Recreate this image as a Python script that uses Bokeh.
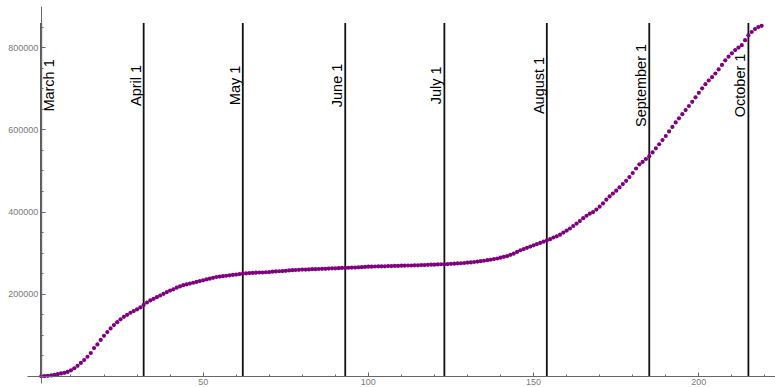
import math

from bokeh.core.properties import value
from bokeh.embed import file_html
from bokeh.models import ColumnDataSource, FixedTicker, PrintfTickFormatter, Range1d
from bokeh.plotting import figure
from bokeh.resources import INLINE

# Cumulative confirmed cases, one value per day (thousands), day 1 = March 1
cases_k = [
    0.5, 1, 1.5, 2.5, 4, 5.5, 7.5, 9, 11, 15,
    20, 26, 33, 40, 48, 57, 69, 78, 89, 99,
    108, 117, 125, 132, 139, 145, 150, 155, 159, 163,
    168, 174, 180, 185, 189, 193, 197, 201, 205, 209,
    212, 216, 219, 222, 224, 226, 228, 230, 232, 234,
    236, 238, 240, 242, 243, 244, 245, 246, 247, 248,
    249, 250, 251, 251.5, 252, 252.5, 253, 253, 253.5, 254,
    255, 255.5, 256, 256.5, 257, 258, 258.5, 259, 259.5, 260,
    260, 260.5, 261, 261, 261.5, 262, 262, 262.5, 263, 263,
    263.5, 264, 264, 264.5, 265, 265, 265.5, 266, 266.5, 267,
    267, 267.5, 268, 268, 268, 268.5, 268.5, 269, 269, 269.5,
    269.5, 270, 270, 270.5, 270.5, 271, 271, 271.5, 272, 272,
    272.5, 273, 273, 273.5, 274, 274.5, 275, 275.5, 276, 277,
    277.5, 278.5, 279.5, 280.5, 281.5, 283, 284, 285.5, 287, 289,
    291, 293, 296, 299, 303, 307, 310, 313, 316, 319,
    322, 325, 328, 331, 334, 338, 341, 345, 350, 355,
    360, 366, 372, 378, 385, 391, 396, 400, 406, 413,
    421, 430, 438, 445, 452, 460, 468, 476, 485, 495,
    506, 516, 522, 529, 536, 545, 555, 565, 575, 585,
    596, 607, 618, 628, 638, 648, 658, 668, 679, 690,
    701, 711, 720, 728, 737, 747, 758, 769, 778, 786,
    794, 800, 806, 818, 830, 838, 845, 850, 853,
]
days = list(range(1, len(cases_k) + 1))
cases = [v * 1000 for v in cases_k]

# First day of each month, as day numbers
month_days = [1, 32, 62, 93, 123, 154, 185, 215]
month_names = ["March 1", "April 1", "May 1", "June 1", "July 1",
               "August 1", "September 1", "October 1"]
line_top = 860000
label_y = 708000

x_major = [50, 100, 150, 200]
x_minor = list(range(10, 230, 10))
y_major = [200000, 400000, 600000, 800000]
y_minor = list(range(50000, 900000, 50000))

p = figure(width=775, height=387, output_backend="svg", toolbar_location=None,
           x_range=Range1d(-11.32, 223.2), y_range=Range1d(-26800, 900000),
           min_border_left=0, min_border_right=0, min_border_top=6,
           min_border_bottom=0)
p.outline_line_color = None
p.xgrid.visible = False
p.ygrid.visible = False
p.background_fill_color = "white"
p.border_fill_color = "white"

# Month separators
p.segment(x0=month_days, y0=[0] * len(month_days), x1=month_days,
          y1=[line_top] * len(month_days), line_color="#111111", line_width=1.8)

# Rotated month labels, set just left of each separator (right of the first)
label_src = ColumnDataSource(dict(
    x=month_days, y=[label_y] * len(month_days), text=month_names,
    dx=[8] + [-8] * (len(month_days) - 1),
))
p.text(x="x", y="y", text="text", x_offset="dx", source=label_src,
       angle=math.pi / 2, text_align="center", text_baseline="middle",
       text_font=value("Liberation Sans"), text_font_size="14.5px",
       text_color="black")

# Daily totals
p.scatter(days, cases, size=4.2, color="#800080", line_color=None)

ax_color = "#666666"
lab_color = "#7a7a7a"
for ax in (p.xaxis[0], p.yaxis[0]):
    ax.axis_line_color = ax_color
    ax.major_tick_line_color = ax_color
    ax.minor_tick_line_color = ax_color
    ax.major_tick_out = 0
    ax.major_tick_in = 4
    ax.minor_tick_out = 0
    ax.minor_tick_in = 2
    ax.major_label_text_font = "Liberation Sans"
    ax.major_label_text_font_size = "9px"
    ax.major_label_text_color = lab_color

p.xaxis[0].fixed_location = 0
p.xaxis[0].bounds = (-3.15, 223.2)
p.xaxis[0].ticker = FixedTicker(ticks=x_major, minor_ticks=x_minor)
p.xaxis[0].major_label_standoff = 3
p.xaxis[0].formatter = PrintfTickFormatter(format="%d")

p.yaxis[0].fixed_location = 1
p.yaxis[0].bounds = (-17000, 900000)
p.yaxis[0].ticker = FixedTicker(ticks=y_major, minor_ticks=y_minor)
p.yaxis[0].major_label_standoff = 3
p.yaxis[0].formatter = PrintfTickFormatter(format="%d")

open("out.html", "w").write(file_html(p, INLINE))
